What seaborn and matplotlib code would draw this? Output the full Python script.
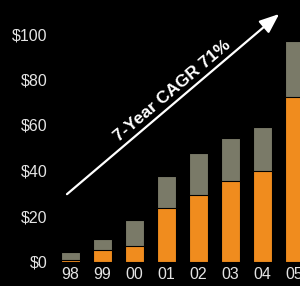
import matplotlib
matplotlib.use("Agg")
import matplotlib.pyplot as plt
import seaborn as sns
import pandas as pd
from matplotlib import font_manager

years = ["98", "99", "00", "01", "02", "03", "04", "05"]
orange_vals = [0.8, 5.0, 6.7, 23.5, 29.3, 35.5, 39.9, 72.2]
total_vals = [4.1, 10.0, 18.1, 37.4, 47.7, 54.5, 59.3, 97.0]
ytick_vals = [0, 20, 40, 60, 80, 100]
ytick_labels = ["$0", "$20", "$40", "$60", "$80", "$100"]
cagr_label = "7-Year CAGR 71%"

df = pd.DataFrame({"year": years, "orange": orange_vals, "total": total_vals})

sns.set_theme(style="white")
plt.rcParams["font.family"] = ["Liberation Sans", "DejaVu Sans"]

names = sorted({f.name for f in font_manager.fontManager.ttflist})
narrow = "Liberation Sans Narrow" if "Liberation Sans Narrow" in names else (
    "DejaVu Sans Condensed" if "DejaVu Sans Condensed" in names else "Liberation Sans")

fig = plt.figure(figsize=(3.0, 2.86), dpi=100, facecolor="black")
ax = fig.add_axes([52 / 300, 24.5 / 286, 248 / 300, 261.5 / 286])
ax.set_facecolor("black")

gray = "#7A7A68"
orange = "#F08C1E"

sns.barplot(data=df, x="year", y="total", color=gray, width=0.58,
            edgecolor="black", linewidth=0.8, saturation=1, ax=ax)
sns.barplot(data=df, x="year", y="orange", color=orange, width=0.58,
            edgecolor="black", linewidth=0.8, saturation=1, ax=ax)

ax.set_xlim(-0.578, 7.17)
ax.set_ylim(0, 261.5 / 2.275)
ax.set_yticks(ytick_vals)
ax.set_yticklabels(ytick_labels)
ax.set_xlabel("")
ax.set_ylabel("")
for s in ax.spines.values():
    s.set_visible(False)
ax.tick_params(axis="both", length=0, colors="#E4E4E4", labelsize=11.5)
ax.tick_params(axis="y", pad=3)
ax.tick_params(axis="x", pad=4)
ax.grid(False)

ax.annotate("", xy=(6.52, 108.8), xytext=(-0.11, 29.6),
            arrowprops=dict(arrowstyle="-|>,head_length=1.0,head_width=0.4",
                            color="white", lw=1.6, shrinkA=0, shrinkB=0))
ax.text(3.17, 75.0, cagr_label, rotation=40.3, rotation_mode="anchor",
        ha="center", va="center", color="white", fontsize=12.5,
        fontweight="bold", family=[narrow, "DejaVu Sans"])

fig.savefig("out.png", dpi=100, facecolor="black")
